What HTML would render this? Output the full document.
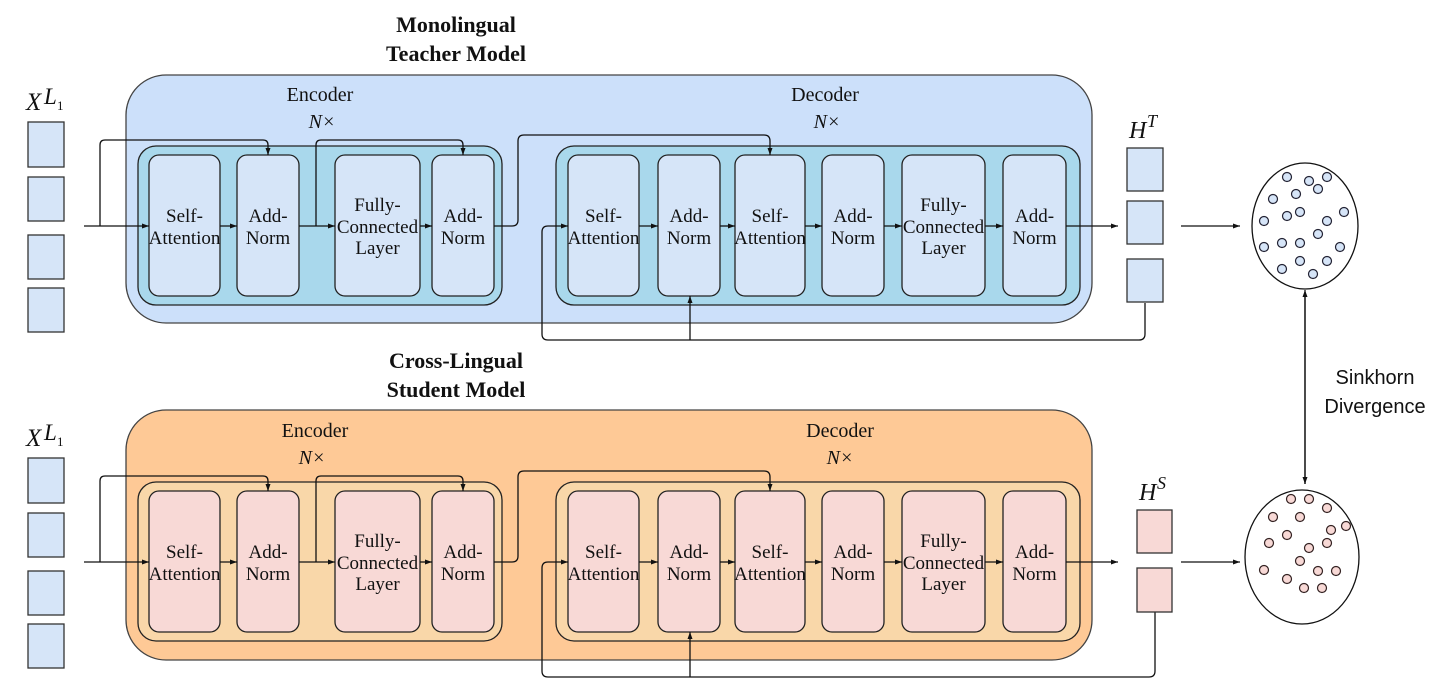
<!DOCTYPE html>
<html><head><meta charset="utf-8"><style>
html,body{margin:0;padding:0;background:#fff;width:1440px;height:689px;overflow:hidden}
svg{display:block}
text{font-family:"Liberation Serif",serif;fill:#111}
.b{font-size:19px;text-anchor:middle}
.h{font-size:20px;text-anchor:middle}
.t{font-size:22px;font-weight:bold;text-anchor:middle}
.ln{fill:none;stroke:#111;stroke-width:1.3}
.blk{stroke:#222;stroke-width:1.3}
</style></head><body>
<svg width="1440" height="689" viewBox="0 0 1440 689" xmlns="http://www.w3.org/2000/svg">
<defs>
<marker id="a" markerWidth="8" markerHeight="8" refX="7" refY="4" orient="auto" markerUnits="userSpaceOnUse"><path d="M0,1.5 L7,4 L0,6.5z" fill="#111"/></marker>
</defs>

<!-- TEACHER -->
<g>
<text class="t" x="456" y="32">Monolingual</text>
<text class="t" x="456" y="61">Teacher Model</text>
<rect x="126" y="75" width="966" height="248" rx="40" fill="#cce0fa" stroke="#444" stroke-width="1.3"/>
<text class="h" x="320" y="101">Encoder</text>
<text class="h" x="322" y="128" font-style="italic">N×</text>
<text class="h" x="825" y="101">Decoder</text>
<text class="h" x="827" y="128" font-style="italic">N×</text>
<rect x="138" y="146" width="364" height="159" rx="18" fill="#a9d8ec" stroke="#222" stroke-width="1.3"/>
<rect x="556" y="146" width="524" height="159" rx="18" fill="#a9d8ec" stroke="#222" stroke-width="1.3"/>
<g fill="#d6e5f8" class="blk">
<rect x="149" y="155" width="71" height="141" rx="10"/>
<rect x="237" y="155" width="62" height="141" rx="10"/>
<rect x="335" y="155" width="85" height="141" rx="10"/>
<rect x="432" y="155" width="62" height="141" rx="10"/>
<rect x="568" y="155" width="71" height="141" rx="10"/>
<rect x="658" y="155" width="62" height="141" rx="10"/>
<rect x="735" y="155" width="70" height="141" rx="10"/>
<rect x="822" y="155" width="62" height="141" rx="10"/>
<rect x="902" y="155" width="83" height="141" rx="10"/>
<rect x="1003" y="155" width="63" height="141" rx="10"/>
</g>
<g class="b">
<text x="184.5" y="222">Self-</text><text x="184.5" y="244">Attention</text>
<text x="268" y="222">Add-</text><text x="268" y="244">Norm</text>
<text x="377.5" y="211">Fully-</text><text x="377.5" y="233">Connected</text><text x="377.5" y="254">Layer</text>
<text x="463" y="222">Add-</text><text x="463" y="244">Norm</text>
<text x="603.5" y="222">Self-</text><text x="603.5" y="244">Attention</text>
<text x="689" y="222">Add-</text><text x="689" y="244">Norm</text>
<text x="770" y="222">Self-</text><text x="770" y="244">Attention</text>
<text x="853" y="222">Add-</text><text x="853" y="244">Norm</text>
<text x="943.5" y="211">Fully-</text><text x="943.5" y="233">Connected</text><text x="943.5" y="254">Layer</text>
<text x="1034.5" y="222">Add-</text><text x="1034.5" y="244">Norm</text>
</g>
<g class="ln">
<path d="M84,226 H149" marker-end="url(#a)"/>
<path d="M100,226 V145 Q100,140 105,140 H263 Q268,140 268,145 V155" marker-end="url(#a)"/>
<path d="M220,226 H237" marker-end="url(#a)"/>
<path d="M299,226 H335" marker-end="url(#a)"/>
<path d="M316,226 V145 Q316,140 321,140 H458 Q463,140 463,145 V155" marker-end="url(#a)"/>
<path d="M420,226 H432" marker-end="url(#a)"/>
<path d="M494,226 H512 Q518,226 518,220 V141 Q518,135 524,135 H764 Q770,135 770,141 V155" marker-end="url(#a)"/>
<path d="M639,226 H658" marker-end="url(#a)"/>
<path d="M720,226 H735" marker-end="url(#a)"/>
<path d="M805,226 H822" marker-end="url(#a)"/>
<path d="M884,226 H902" marker-end="url(#a)"/>
<path d="M985,226 H1003" marker-end="url(#a)"/>
<path d="M1066,226 H1118" marker-end="url(#a)"/>
<path d="M1145,303 V334 Q1145,340 1139,340 H548 Q542,340 542,334 V232 Q542,226 548,226 H568" marker-end="url(#a)"/>
<path d="M690,340 V296" marker-end="url(#a)"/>
<path d="M1181,226 H1240" marker-end="url(#a)"/>
</g>
<g fill="#d6e5f8" stroke="#333" stroke-width="1.3">
<rect x="28" y="122" width="36" height="45"/>
<rect x="28" y="177" width="36" height="44"/>
<rect x="28" y="235" width="36" height="44"/>
<rect x="28" y="288" width="36" height="44"/>
<rect x="1127" y="148" width="36" height="43"/>
<rect x="1127" y="201" width="36" height="43"/>
<rect x="1127" y="259" width="36" height="43"/>
</g>
<text x="26" y="110" font-size="25" font-style="italic">X</text>
<text x="44" y="104" font-size="23" font-style="italic">L</text>
<text x="57" y="110" font-size="13">1</text>
<text x="1129" y="138" font-size="24" font-style="italic">H</text>
<text x="1147" y="127" font-size="18" font-style="italic">T</text>
<ellipse cx="1305" cy="226" rx="53" ry="63" fill="#fff" stroke="#111" stroke-width="1.3"/>
<g fill="#d6e5f8" stroke="#223" stroke-width="1.2">
<circle cx="1287" cy="177" r="4.5"/><circle cx="1309" cy="181" r="4.5"/><circle cx="1327" cy="177" r="4.5"/>
<circle cx="1318" cy="189" r="4.5"/><circle cx="1296" cy="194" r="4.5"/><circle cx="1273" cy="199" r="4.5"/>
<circle cx="1287" cy="216" r="4.5"/><circle cx="1300" cy="212" r="4.5"/><circle cx="1344" cy="212" r="4.5"/>
<circle cx="1264" cy="221" r="4.5"/><circle cx="1327" cy="221" r="4.5"/><circle cx="1318" cy="234" r="4.5"/>
<circle cx="1264" cy="247" r="4.5"/><circle cx="1282" cy="243" r="4.5"/><circle cx="1300" cy="243" r="4.5"/>
<circle cx="1340" cy="247" r="4.5"/><circle cx="1300" cy="261" r="4.5"/><circle cx="1327" cy="261" r="4.5"/>
<circle cx="1282" cy="269" r="4.5"/><circle cx="1313" cy="274" r="4.5"/>
</g>
</g>

<!-- STUDENT -->
<g>
<text class="t" x="456" y="368">Cross-Lingual</text>
<text class="t" x="456" y="397">Student Model</text>
<rect x="126" y="410" width="966" height="250" rx="40" fill="#fec996" stroke="#444" stroke-width="1.3"/>
<text class="h" x="315" y="437">Encoder</text>
<text class="h" x="312" y="464" font-style="italic">N×</text>
<text class="h" x="840" y="437">Decoder</text>
<text class="h" x="840" y="464" font-style="italic">N×</text>
<rect x="138" y="482" width="364" height="159" rx="18" fill="#f9d7a9" stroke="#222" stroke-width="1.3"/>
<rect x="556" y="482" width="524" height="159" rx="18" fill="#f9d7a9" stroke="#222" stroke-width="1.3"/>
<g fill="#f8d9d6" class="blk">
<rect x="149" y="491" width="71" height="141" rx="10"/>
<rect x="237" y="491" width="62" height="141" rx="10"/>
<rect x="335" y="491" width="85" height="141" rx="10"/>
<rect x="432" y="491" width="62" height="141" rx="10"/>
<rect x="568" y="491" width="71" height="141" rx="10"/>
<rect x="658" y="491" width="62" height="141" rx="10"/>
<rect x="735" y="491" width="70" height="141" rx="10"/>
<rect x="822" y="491" width="62" height="141" rx="10"/>
<rect x="902" y="491" width="83" height="141" rx="10"/>
<rect x="1003" y="491" width="63" height="141" rx="10"/>
</g>
<g class="b">
<text x="184.5" y="558">Self-</text><text x="184.5" y="580">Attention</text>
<text x="268" y="558">Add-</text><text x="268" y="580">Norm</text>
<text x="377.5" y="547">Fully-</text><text x="377.5" y="569">Connected</text><text x="377.5" y="590">Layer</text>
<text x="463" y="558">Add-</text><text x="463" y="580">Norm</text>
<text x="603.5" y="558">Self-</text><text x="603.5" y="580">Attention</text>
<text x="689" y="558">Add-</text><text x="689" y="580">Norm</text>
<text x="770" y="558">Self-</text><text x="770" y="580">Attention</text>
<text x="853" y="558">Add-</text><text x="853" y="580">Norm</text>
<text x="943.5" y="547">Fully-</text><text x="943.5" y="569">Connected</text><text x="943.5" y="590">Layer</text>
<text x="1034.5" y="558">Add-</text><text x="1034.5" y="580">Norm</text>
</g>
<g class="ln">
<path d="M84,562 H149" marker-end="url(#a)"/>
<path d="M100,562 V481 Q100,476 105,476 H263 Q268,476 268,481 V491" marker-end="url(#a)"/>
<path d="M220,562 H237" marker-end="url(#a)"/>
<path d="M299,562 H335" marker-end="url(#a)"/>
<path d="M316,562 V481 Q316,476 321,476 H458 Q463,476 463,481 V491" marker-end="url(#a)"/>
<path d="M420,562 H432" marker-end="url(#a)"/>
<path d="M494,562 H512 Q518,562 518,556 V477 Q518,471 524,471 H764 Q770,471 770,477 V491" marker-end="url(#a)"/>
<path d="M639,562 H658" marker-end="url(#a)"/>
<path d="M720,562 H735" marker-end="url(#a)"/>
<path d="M805,562 H822" marker-end="url(#a)"/>
<path d="M884,562 H902" marker-end="url(#a)"/>
<path d="M985,562 H1003" marker-end="url(#a)"/>
<path d="M1066,562 H1118" marker-end="url(#a)"/>
<path d="M1155,612 V671 Q1155,677 1149,677 H548 Q542,677 542,671 V568 Q542,562 548,562 H568" marker-end="url(#a)"/>
<path d="M690,677 V632" marker-end="url(#a)"/>
<path d="M1181,562 H1240" marker-end="url(#a)"/>
</g>
<g fill="#d6e5f8" stroke="#333" stroke-width="1.3">
<rect x="28" y="458" width="36" height="45"/>
<rect x="28" y="513" width="36" height="44"/>
<rect x="28" y="571" width="36" height="44"/>
<rect x="28" y="624" width="36" height="44"/>
</g>
<g fill="#f8d9d6" stroke="#333" stroke-width="1.3">
<rect x="1137" y="510" width="35" height="43"/>
<rect x="1137" y="568" width="35" height="44"/>
</g>
<text x="26" y="446" font-size="25" font-style="italic">X</text>
<text x="44" y="440" font-size="23" font-style="italic">L</text>
<text x="57" y="446" font-size="13">1</text>
<text x="1139" y="500" font-size="24" font-style="italic">H</text>
<text x="1157" y="489" font-size="18" font-style="italic">S</text>
<ellipse cx="1302" cy="557" rx="57" ry="67" fill="#fff" stroke="#111" stroke-width="1.3"/>
<g fill="#f8d9d6" stroke="#322" stroke-width="1.2">
<circle cx="1291" cy="499" r="4.5"/><circle cx="1309" cy="499" r="4.5"/><circle cx="1327" cy="508" r="4.5"/>
<circle cx="1273" cy="517" r="4.5"/><circle cx="1300" cy="517" r="4.5"/><circle cx="1331" cy="530" r="4.5"/>
<circle cx="1346" cy="526" r="4.5"/><circle cx="1287" cy="535" r="4.5"/><circle cx="1327" cy="543" r="4.5"/>
<circle cx="1269" cy="543" r="4.5"/><circle cx="1309" cy="548" r="4.5"/><circle cx="1300" cy="561" r="4.5"/>
<circle cx="1264" cy="570" r="4.5"/><circle cx="1318" cy="571" r="4.5"/><circle cx="1336" cy="571" r="4.5"/>
<circle cx="1287" cy="579" r="4.5"/><circle cx="1304" cy="588" r="4.5"/><circle cx="1322" cy="588" r="4.5"/>
</g>
</g>

<!-- Sinkhorn -->
<path d="M1305,296 V484" class="ln" marker-end="url(#a)"/>
<path d="M1305,484 V290" class="ln" marker-end="url(#a)"/>
<text x="1375" y="384" font-size="20" text-anchor="middle" style="font-family:'Liberation Sans',sans-serif">Sinkhorn</text>
<text x="1375" y="413" font-size="20" text-anchor="middle" style="font-family:'Liberation Sans',sans-serif">Divergence</text>
</svg>
</body></html>
